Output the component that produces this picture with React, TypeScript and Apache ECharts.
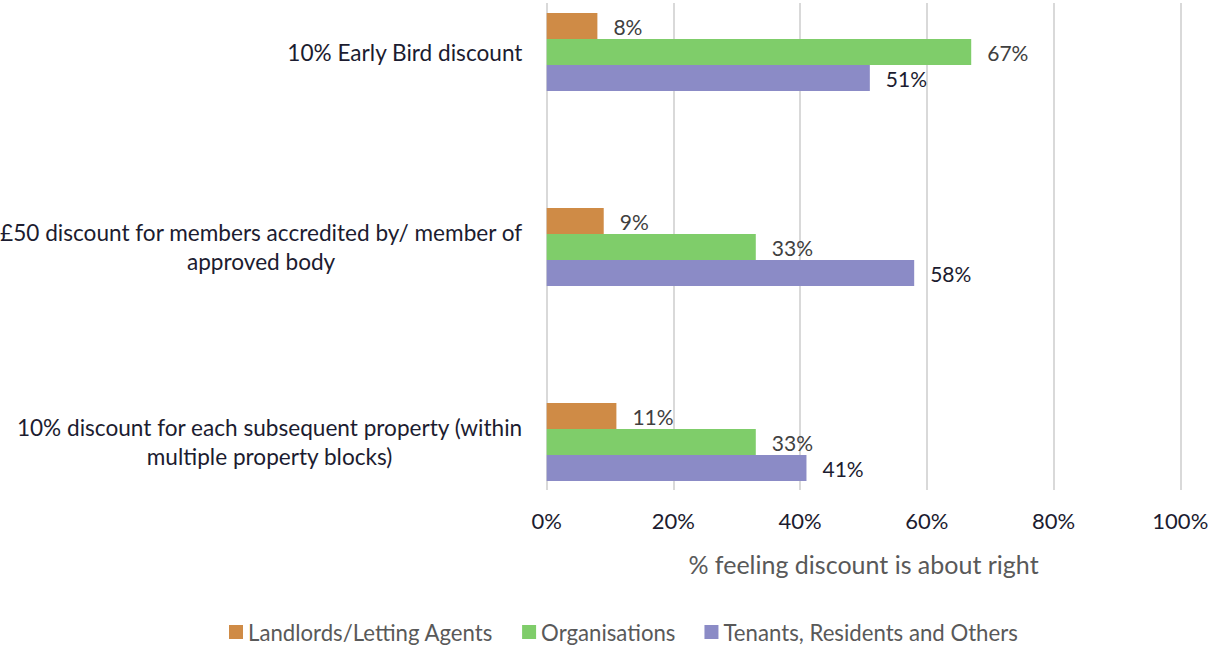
import React, { useEffect, useRef } from "react";
import * as echarts from "echarts";

const categories = [
  "10% Early Bird discount",
  "£50 discount for members accredited by/ member of\napproved body",
  "10% discount for each subsequent property (within\nmultiple property blocks)",
];
const seriesNames = ["Landlords/Letting Agents", "Organisations", "Tenants, Residents and Others"];
const landlords = [8, 9, 11];
const organisations = [67, 33, 33];
const tenants = [51, 58, 41];
const xTicks = [0, 20, 40, 60, 80, 100];
const axisTitle = "% feeling discount is about right";

const FONT = "Lato, 'Open Sans', sans-serif";
const colors = ["#CF8B46", "#7FCD6A", "#8B8BC6"];
const labelColors = ["#404040", "#404040", "#1c1c30"];

export default function App() {
  const ref = useRef<HTMLDivElement>(null);
  useEffect(() => {
    if (!ref.current) return;
    const chart = echarts.init(ref.current, undefined, { renderer: "svg" });
    const values = [landlords, organisations, tenants];
    chart.setOption({
      animation: false,
      textStyle: { fontFamily: FONT },
      grid: [
        { left: 546.7, right: 27.7, top: -45.5, height: 585, outerBoundsMode: "none", containLabel: false },
        { left: 546.7, right: 27.7, top: 3, height: 487, outerBoundsMode: "none", containLabel: false },
      ],
      xAxis: [
        { gridIndex: 0, type: "value", min: 0, max: 100, interval: 20, show: false },
        {
          gridIndex: 1,
          type: "value",
          min: xTicks[0],
          max: xTicks[xTicks.length - 1],
          interval: 20,
          axisLine: { show: false },
          axisTick: { show: false },
          splitLine: { show: true, lineStyle: { color: "#D9D9D9", width: 2 } },
          axisLabel: { formatter: "{value}%", color: "#1c1c30", fontSize: 22, fontFamily: FONT, margin: 19 },
          name: axisTitle,
          nameLocation: "middle",
          nameGap: 61,
          nameTextStyle: { color: "#595959", fontSize: 25, fontFamily: FONT },
        },
      ],
      yAxis: [
        {
          gridIndex: 0,
          type: "category",
          inverse: true,
          data: categories,
          axisLine: { show: false },
          axisTick: { show: false },
          splitLine: { show: false },
          axisLabel: {
            align: "right",
            margin: 24,
            formatter: (v: string) => v.split("\n").map((l) => "{a|" + l + "}").join("\n"),
            rich: {
              a: { align: "center", fontSize: 22.6, fontFamily: FONT, color: "#1c1c30", lineHeight: 29 },
            },
          },
        },
        { gridIndex: 1, type: "value", show: false },
      ],
      legend: {
        left: 229,
        top: 621,
        padding: 0,
        icon: "rect",
        itemWidth: 14,
        itemHeight: 14,
        itemGap: 29,
        textStyle: { color: "#595959", fontSize: 22.2, fontFamily: FONT },
        data: seriesNames,
      },
      series: seriesNames.map((name, i) => ({
        name,
        type: "bar",
        xAxisIndex: 0,
        yAxisIndex: 0,
        data: values[i],
        barWidth: 26,
        barGap: "0%",
        itemStyle: { color: colors[i] },
        label: {
          show: true,
          position: "right",
          distance: 16,
          formatter: "{c}%",
          color: labelColors[i],
          fontSize: 21,
          fontFamily: FONT,
        },
      })),
    });
    return () => chart.dispose();
  }, []);
  return <div ref={ref} style={{ position: "absolute", left: 0, top: 0, width: 1208, height: 648 }} />;
}
